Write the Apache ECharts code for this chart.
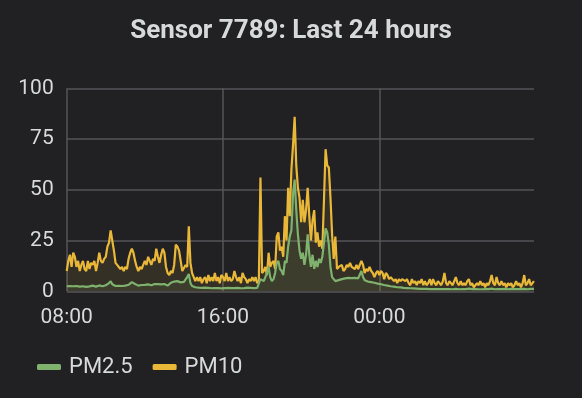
<!DOCTYPE html>
<html><head><meta charset="utf-8">
<script src="https://cdn.jsdelivr.net/npm/echarts@6/dist/echarts.min.js"></script>
<style>html,body{margin:0;padding:0;background:#212124;}#c{width:582px;height:398px;}</style>
</head><body><div id="c"></div>
<script>
const chartTitle = 'Sensor 7789: Last 24 hours';
const seriesNames = ['PM2.5', 'PM10'];
const tickLabels = ['08:00', '16:00', '00:00'];
const yTicks = [0, 25, 50, 75, 100];
const startHour = 8;
const stepMinutes = 5;

const pm10 = [
 10,15,18,12,19,17,12,15,10,13,15,11,
 10,15,11,14,13,15,10,14,19,15,14,16,
 17,22,24,30,25,20,14,13,12,11,12,10,
 12,11,16,19,21,19,15,12,10,12,11,13,
 15,13,17,15,13,16,15,21,17,14,18,21,
 19,12,9,8,10,9,13,23,22,20,15,10,
 10,13,12,32,14,9,7,5,7,5,7,4,
 6,7,4,8,5,7,5,9,5,7,4,8,
 7,5,9,5,7,5,6,10,7,5,7,4,
 9,7,6,4,6,5,7,5,7,4,5,56,
 9,10,12,8,19,12,14,15,11,27,29,20,
 22,17,37,25,51,37,60,72,86,62,51,46,
 34,45,34,40,51,37,25,35,40,24,29,22,
 25,21,45,70,62,61,46,28,16,27,11,12,
 12,13,10,11,13,12,14,12,12,11,13,11,
 11,15,13,9,11,10,12,10,9,7,9,10,
 8,10,9,6,9,8,6,7,6,5,6,4,
 6,5,6,6,5,6,4,3,6,4,5,3,
 5,4,6,3,5,3,4,6,3,6,4,3,
 5,4,3,5,9,4,3,5,4,3,5,7,
 4,3,5,3,4,3,5,6,3,4,2,3,
 4,3,5,3,4,2,4,3,5,8,4,3,
 7,4,3,5,3,4,2,4,3,4,2,3,
 5,3,4,2,4,8,3,4,6,3,4,5
];

const pm25 = [
 2.5,2.4,2.6,2.3,2.5,2.2,2.6,2.4,2.3,2.7,2.5,2.3,
 2.2,2.6,2.4,2.5,2.8,2.4,2.3,2.6,2.9,2.7,2.5,2.6,
 3.0,3.2,4.0,5.0,3.5,2.8,2.6,2.5,2.7,2.4,2.6,2.5,
 2.8,3.0,3.2,3.5,4.5,5.2,3.6,3.0,2.8,3.0,3.1,2.9,
 3.2,3.0,3.4,3.2,3.0,3.3,3.6,4.2,3.5,3.0,3.4,4.0,
 3.6,3.0,2.8,3.5,4.2,4.5,4.8,5.2,5.0,4.6,4.4,4.5,
 4.6,5.5,7.0,8.5,4.0,2.6,2.3,2.0,2.1,1.8,2.0,1.7,
 1.6,1.8,1.5,1.7,1.6,1.5,1.7,1.6,1.4,1.6,1.5,1.4,
 1.5,1.6,1.4,1.7,1.5,1.6,1.8,1.6,1.5,1.7,1.6,1.5,
 1.7,1.6,1.5,1.8,1.6,1.7,1.5,1.6,1.8,1.7,1.9,6.0,
 6,5,7,9,12,7,5,6,9,14,15,11,
 10,8,15,14,22,27,30,48,55,40,28,20,
 16,19,13,18,28,18,12,18,11,15,12,16,
 14,17,24,31,29,23,12,7,6,5,5,5.5,
 5.8,6,6.2,6.4,6.5,6.6,6.8,6.5,6.4,6.6,6.5,6.4,
 6.5,10,7,5.5,5,4.8,4.6,4.5,4.3,4.2,4.0,3.8,
 3.6,3.5,3.3,3.1,3.0,2.8,2.7,2.5,2.4,2.3,2.1,2.0,
 2.0,1.9,1.8,1.7,1.7,1.6,1.5,1.5,1.4,1.4,1.3,1.3,
 1.3,1.2,1.2,1.2,1.1,1.2,1.1,1.1,1.2,1.1,1.0,1.1,
 1.2,1.1,1.0,1.1,1.3,1.1,1.0,1.1,1.2,1.0,1.1,1.2,
 1.1,1.0,1.2,1.1,1.0,1.1,1.2,1.3,1.0,1.1,1.0,1.1,
 1.2,1.0,1.1,1.0,1.2,1.1,1.0,1.1,1.2,1.3,1.1,1.0,
 1.2,1.1,1.0,1.1,1.0,1.2,1.1,1.0,1.1,1.2,1.0,1.1,
 1.2,1.1,1.0,1.1,1.0,1.2,1.1,1.0,1.1,1.2,1.1,1.2
];

const times = pm10.map(function (_, i) {
  const m = startHour * 60 + i * stepMinutes;
  const h = Math.floor(m / 60) % 24;
  return String(h).padStart(2, '0') + ':' + String(m % 60).padStart(2, '0');
});

const textColor = '#d8d9da';
const gridColor = '#545458';
const font = 'Roboto';
const showTick = function (idx, val) { return tickLabels.indexOf(val) !== -1; };

const chart = echarts.init(document.getElementById('c'), null, { renderer: 'canvas' });
chart.setOption({
  backgroundColor: '#212124',
  animation: false,
  title: {
    text: chartTitle, left: 'center', top: 13,
    textStyle: { color: textColor, fontSize: 26, fontWeight: 'bold', fontFamily: font }
  },
  legend: {
    data: seriesNames, left: 32, top: 351, icon: 'roundRect',
    itemWidth: 24, itemHeight: 6, itemGap: 20,
    textStyle: { color: textColor, fontSize: 22, fontFamily: font, padding: [0, 0, 0, 3] }
  },
  grid: { left: 66.7, right: 48, top: 88.3, bottom: 106.7, containLabel: false },
  xAxis: {
    type: 'category', data: times, boundaryGap: false,
    axisLine: { show: false }, axisTick: { show: false },
    axisLabel: { interval: showTick, color: textColor, fontSize: 21, fontFamily: font, margin: 16 },
    splitLine: { show: true, interval: showTick, lineStyle: { color: gridColor, width: 1.5 } }
  },
  yAxis: {
    type: 'value', min: yTicks[0], max: yTicks[yTicks.length - 1], interval: 25,
    axisLine: { show: false }, axisTick: { show: false },
    axisLabel: { color: textColor, fontSize: 21, fontFamily: font, margin: 13 },
    splitLine: { show: true, lineStyle: { color: gridColor, width: 1.5 } }
  },
  series: [
    { name: seriesNames[0], type: 'line', data: pm25, showSymbol: false, z: 3,
      lineStyle: { color: '#7eb26d', width: 2.2 }, itemStyle: { color: '#7eb26d' },
      areaStyle: { color: '#7eb26d', opacity: 0.1 } },
    { name: seriesNames[1], type: 'line', data: pm10, showSymbol: false, z: 2,
      lineStyle: { color: '#eab839', width: 2.2 }, itemStyle: { color: '#eab839' },
      areaStyle: { color: '#eab839', opacity: 0.1 } }
  ]
});
</script>
</body></html>
